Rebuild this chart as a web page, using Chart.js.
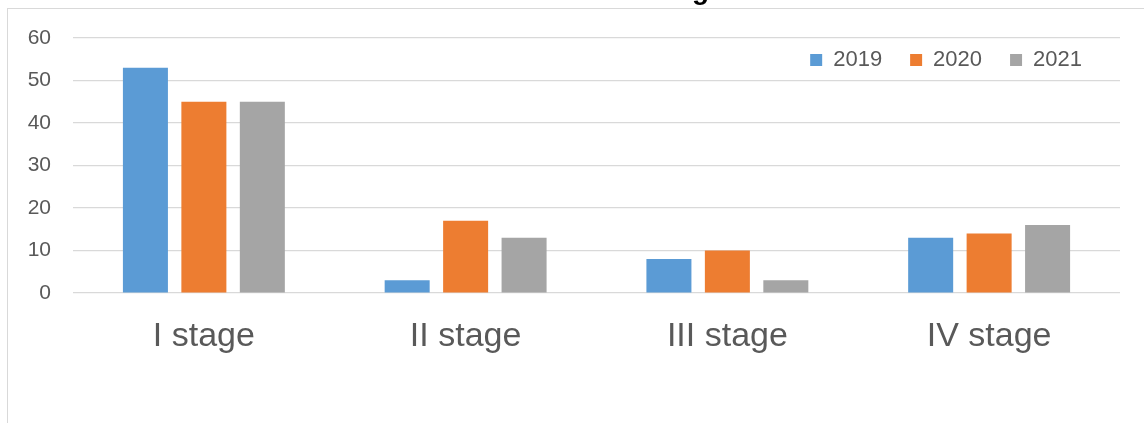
<!DOCTYPE html>
<html lang="en">
<head>
<meta charset="utf-8">
<title>Stage chart</title>
<script src="https://cdn.jsdelivr.net/npm/chart.js@4.4.1/dist/chart.umd.min.js"></script>
<style>
  html, body { margin: 0; padding: 0; background: #fff; overflow: hidden; }
  #wrap { position: relative; width: 1144px; height: 423px; }
  #frame {
    position: absolute; left: 7px; top: 8px; width: 2000px; height: 1000px;
    border: 1px solid #d9d9d9; pointer-events: none;
  }
</style>
</head>
<body>
<div id="wrap">
  <div id="frame"></div>
  <canvas id="stageChart" width="1144" height="423"></canvas>
</div>
<script>
// data
const categories = ["I stage", "II stage", "III stage", "IV stage"];
const years = ["2019", "2020", "2021"];
const values2019 = [53, 3, 8, 13];
const values2020 = [45, 17, 10, 14];
const values2021 = [45, 13, 3, 16];
const yMin = 0;
const yMax = 60;
const yStep = 10;

const colors = ["#5B9BD5", "#ED7D31", "#A5A5A5"];
const textColor = "#595959";
const fontFamily = "'Liberation Sans', Arial, sans-serif";

// legend sits inside the plot area, move it there before drawing
const legendMover = {
  id: "legendMover",
  beforeDraw(chart) {
    const lg = chart.legend;
    const area = chart.chartArea;
    lg.top = area.top - 17;
    lg.bottom = lg.top + 70;
    lg.height = 70;
    lg.right = area.right - 10;
  }
};

// title is mostly cut off by the top edge, only a descender shows
const cutTitle = {
  id: "cutTitle",
  afterDraw(chart) {
    const ctx = chart.ctx;
    ctx.save();
    ctx.font = "bold 28px " + fontFamily;
    ctx.fillStyle = "#000";
    ctx.textAlign = "right";
    ctx.textBaseline = "alphabetic";
    ctx.fillText("Cancer screening", 709, -1);
    ctx.restore();
  }
};

new Chart(document.getElementById("stageChart"), {
  type: "bar",
  data: {
    labels: categories,
    datasets: [
      { label: years[0], data: values2019, backgroundColor: colors[0] },
      { label: years[1], data: values2020, backgroundColor: colors[1] },
      { label: years[2], data: values2021, backgroundColor: colors[2] }
    ]
  },
  options: {
    responsive: false,
    animation: false,
    datasets: {
      bar: { categoryPercentage: 0.67, barPercentage: 0.77 }
    },
    layout: { padding: { top: 37, right: 24, bottom: 0, left: 0 } },
    plugins: {
      legend: {
        position: "top",
        align: "end",
        maxHeight: 1,
        labels: {
          boxWidth: 12,
          boxHeight: 12,
          padding: 28,
          color: textColor,
          font: { family: fontFamily, size: 22 }
        }
      },
      title: { display: false },
      tooltip: { enabled: false }
    },
    scales: {
      x: {
        grid: { display: false },
        border: { display: false },
        ticks: {
          color: textColor,
          padding: 15,
          font: { family: fontFamily, size: 34 }
        },
        afterFit(scale) { scale.height = 130; }
      },
      y: {
        min: yMin,
        max: yMax,
        border: { display: false },
        grid: { color: "#d9d9d9", lineWidth: 1.2, drawTicks: false },
        ticks: {
          stepSize: yStep,
          color: textColor,
          padding: 22,
          font: { family: fontFamily, size: 21 }
        },
        afterFit(scale) { scale.width = 73; }
      }
    }
  },
  plugins: [legendMover, cutTitle]
});
</script>
</body>
</html>
